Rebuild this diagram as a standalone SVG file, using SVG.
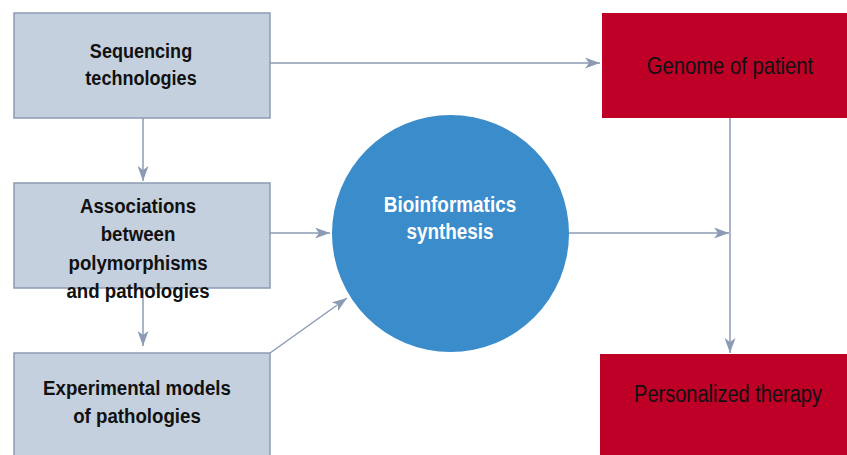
<svg xmlns="http://www.w3.org/2000/svg" width="847" height="455" viewBox="0 0 847 455">
<style>
.box{fill:#c4d0dd;stroke:#8c9bb4;stroke-width:1.5}
.red{fill:#be0027}
.t{font-family:"Liberation Sans",Arial,sans-serif;font-size:21px;text-anchor:middle;fill:#111}
.b{font-weight:bold}
.r{font-size:23px}
.w{fill:#ffffff;font-size:22px}
.c{stroke:#8c9bb4;stroke-width:1.5;fill:none}
</style>
<defs>
<marker id="ah" viewBox="0 0 15 11" refX="15" refY="5.5" markerWidth="15" markerHeight="11" markerUnits="userSpaceOnUse" orient="auto">
<path d="M0,0 L15,5.5 L0,11 L4,5.5 Z" fill="#8c9bb4"/>
</marker>
</defs>
<g id="connectors">
<line class="c" x1="270" y1="63" x2="600" y2="63" marker-end="url(#ah)"/>
<line class="c" x1="143" y1="118" x2="143" y2="181" marker-end="url(#ah)"/>
<line class="c" x1="270" y1="233" x2="330" y2="233" marker-end="url(#ah)"/>
<line class="c" x1="143" y1="288" x2="143" y2="346" marker-end="url(#ah)"/>
<line class="c" x1="270" y1="353" x2="347" y2="298" marker-end="url(#ah)"/>
<line class="c" x1="569" y1="233" x2="729" y2="233" marker-end="url(#ah)"/>
<line class="c" x1="730" y1="118" x2="730" y2="353" marker-end="url(#ah)"/>
</g>
<g id="sequencing">
<rect class="box" x="14" y="13" width="256" height="105"/>
<g transform="matrix(0.86 0 0 1 141 0)">
<text class="t b" x="0" y="58">Sequencing</text>
<text class="t b" x="0" y="85">technologies</text>
</g>
</g>
<g id="associations">
<rect class="box" x="14" y="183" width="256" height="105"/>
<g transform="matrix(0.89 0 0 1 138 0)">
<text class="t b" x="0" y="213">Associations</text>
<text class="t b" x="0" y="241">between</text>
<text class="t b" x="0" y="270">polymorphisms</text>
<text class="t b" x="0" y="298">and pathologies</text>
</g>
</g>
<g id="experimental">
<rect class="box" x="14" y="353" width="256" height="110"/>
<g transform="matrix(0.89 0 0 1 137 0)">
<text class="t b" x="0" y="395">Experimental models</text>
<text class="t b" x="0" y="423">of pathologies</text>
</g>
</g>
<g id="bioinformatics">
<circle cx="450.5" cy="233.5" r="118.5" fill="#3a8ccb"/>
<g transform="matrix(0.86 0 0 1 450 0)">
<text class="t b w" x="0" y="212">Bioinformatics</text>
<text class="t b w" x="0" y="239">synthesis</text>
</g>
</g>
<g id="genome">
<rect class="red" x="602" y="13" width="250" height="105"/>
<text class="t r" transform="matrix(0.88 0 0 1 730 0)" x="0" y="74">Genome of patient</text>
</g>
<g id="therapy">
<rect class="red" x="600" y="354" width="252" height="106"/>
<text class="t r" transform="matrix(0.87 0 0 1 728 0)" x="0" y="402">Personalized therapy</text>
</g>
</svg>
